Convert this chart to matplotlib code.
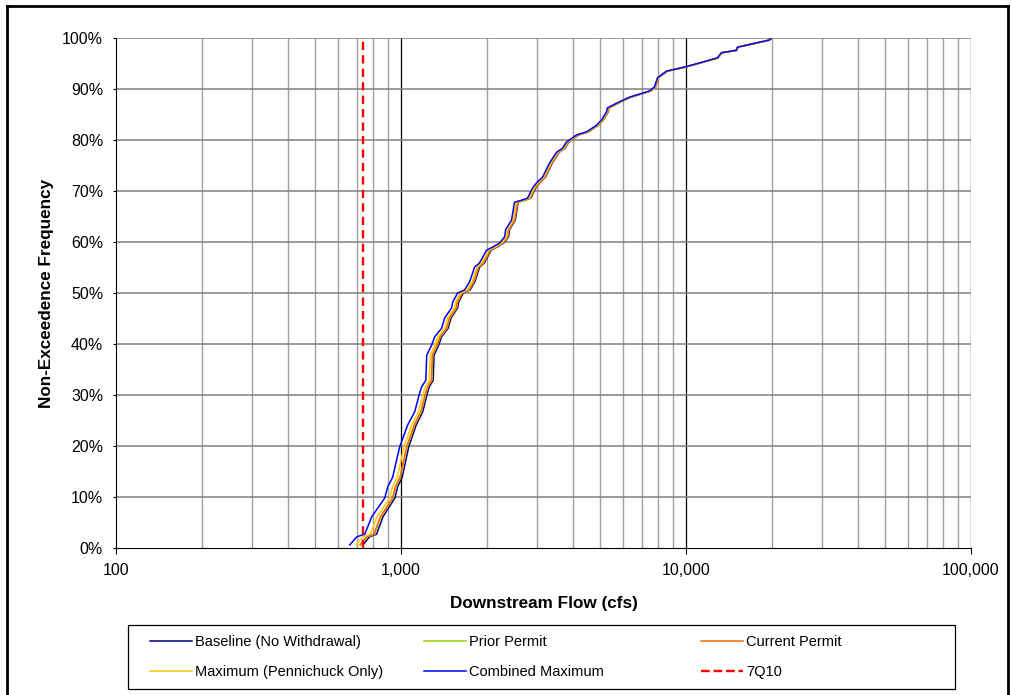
import numpy as np
import matplotlib
matplotlib.use('Agg')
import matplotlib.pyplot as plt
from matplotlib.ticker import FixedLocator, FuncFormatter, MultipleLocator
from matplotlib.lines import Line2D
from matplotlib.patches import Rectangle

plt.rcParams['font.family'] = ['Liberation Sans', 'DejaVu Sans']

# Baseline (no withdrawal) downstream flow, cfs
baseline_flow = [736, 775, 821, 864, 903, 952, 973, 1010, 1064, 1130, 1192, 1238,
                 1257, 1297, 1306, 1356, 1388, 1464, 1498, 1581, 1593, 1655, 1747,
                 1816, 1888, 1962, 2072, 2171, 2293, 2385, 2403, 2518, 2577, 2724,
                 2855, 2969, 3088, 3212, 3396, 3589, 3763, 3884, 4203, 4552, 4928,
                 5126, 5335, 5377, 5918, 6408, 7517, 7825, 8015, 8145, 8613, 9945,
                 11215, 12955, 13375, 15095, 15215, 19675, 19995]
# non-exceedence frequency (%) for each flow above
frequency = [0.6, 2.2, 2.7, 6.1, 7.8, 9.8, 12.0, 13.9, 19.8, 24.1, 26.7, 30.4,
             31.6, 32.9, 37.8, 39.8, 41.4, 43.1, 45.1, 47.1, 48.2, 50.0, 50.6,
             52.2, 55.1, 55.9, 58.4, 59.0, 59.8, 61.0, 62.4, 64.3, 67.8, 68.2,
             68.6, 70.6, 71.8, 72.7, 75.5, 77.6, 78.4, 79.6, 81.0, 81.6, 82.9,
             83.9, 85.5, 86.3, 87.5, 88.4, 89.6, 90.4, 92.2, 92.5, 93.5, 94.3,
             95.1, 96.1, 97.1, 97.6, 98.2, 99.6, 100.0]

# withdrawal (cfs) under each scenario
scenarios = ['Baseline (No Withdrawal)', 'Prior Permit', 'Current Permit',
             'Maximum (Pennichuck Only)', 'Combined Maximum']
withdrawal = [0, 14, 18, 40, 75]
colors = ['#000080', '#99CC00', '#FF6600', '#FFCC00', '#0000FF']

q7_10 = 735  # 7Q10 flow, cfs

fig = plt.figure(figsize=(10.12, 6.95), dpi=100)
ax = fig.add_axes([116 / 1012, 1 - 548 / 695, 855 / 1012, 510 / 695])

freq = np.array(frequency) / 100
handles = []
for name, w, c in zip(scenarios, withdrawal, colors):
    flow = np.array(baseline_flow) - w
    h, = ax.plot(flow, freq, color=c, lw=1.1, label=name, zorder=3)
    handles.append(h)

h7, = ax.plot([q7_10, q7_10], [0, 1], color='#FF0000', lw=1.7, ls=(0, (3.5, 2.2)),
              label='7Q10', zorder=4)
handles.append(h7)

ax.set_xscale('log')
ax.set_xlim(100, 100000)
ax.set_ylim(0, 1)

# grid lines drawn like the spreadsheet
minor = [m * 10 ** e for e in range(2, 5) for m in range(2, 10)]
for v in minor:
    ax.axvline(v, color='#A0A0A0', lw=1.0, zorder=1)
for v in [1000, 10000, 100000]:
    ax.axvline(v, color='black', lw=0.9, zorder=1)
for y in np.arange(0.1, 1.01, 0.1):
    ax.axhline(y, color='#808080', lw=1.1, zorder=1)

ax.spines['top'].set_visible(False)
ax.spines['right'].set_visible(False)
ax.spines['left'].set_color('black')
ax.spines['bottom'].set_color('black')

ax.xaxis.set_major_locator(FixedLocator([100, 1000, 10000, 100000]))
ax.xaxis.set_minor_locator(FixedLocator(minor))
ax.xaxis.set_major_formatter(FuncFormatter(lambda v, p: f'{v:,.0f}'))
ax.yaxis.set_major_locator(MultipleLocator(0.1))
ax.yaxis.set_major_formatter(FuncFormatter(lambda v, p: f'{v * 100:.0f}%'))
ax.tick_params(axis='x', which='major', direction='out', length=4, labelsize=11.5, pad=7)
ax.tick_params(axis='x', which='minor', length=0)
ax.tick_params(axis='y', direction='out', length=2.5, labelsize=11.5, pad=6.8)

ax.set_xlabel('Downstream Flow (cfs)', fontsize=12.3, fontweight='bold', labelpad=13)
ax.set_ylabel('Non-Exceedence Frequency', fontsize=12.3, fontweight='bold', labelpad=6)

# legend: three columns at fixed positions inside one box
fig.patches.append(Rectangle((128 / 1012, 1 - 689 / 695), 827 / 1012, 64 / 695,
                             transform=fig.transFigure, fill=False,
                             edgecolor='black', lw=0.9))
cols = [(handles[0], handles[3]), (handles[1], handles[4]), (handles[2], handles[5])]
col_x = [150, 424, 701]
for (a, b), x in zip(cols, col_x):
    lh = [Line2D([], [], color=a.get_color(), lw=a.get_linewidth(), ls=a.get_linestyle()),
          Line2D([], [], color=b.get_color(), lw=b.get_linewidth(), ls=b.get_linestyle())]
    leg = fig.legend(lh, [a.get_label(), b.get_label()], loc='upper left',
                     bbox_to_anchor=(x / 1012, 1 - 635 / 695), frameon=False,
                     fontsize=10.5, handlelength=2.9, handletextpad=0.2,
                     labelspacing=1.12, borderpad=0, borderaxespad=0)

# outer frame of the figure
fig.add_artist(Line2D([7 / 1012, 7 / 1012], [0, 1 - 6 / 695], color='black', lw=2,
                      transform=fig.transFigure))
fig.add_artist(Line2D([7 / 1012, 1008 / 1012], [1 - 6 / 695, 1 - 6 / 695], color='black',
                      lw=2, transform=fig.transFigure))
fig.add_artist(Line2D([1008 / 1012, 1008 / 1012], [0, 1 - 6 / 695], color='black', lw=2,
                      transform=fig.transFigure))

plt.savefig('out.png', dpi=100)
